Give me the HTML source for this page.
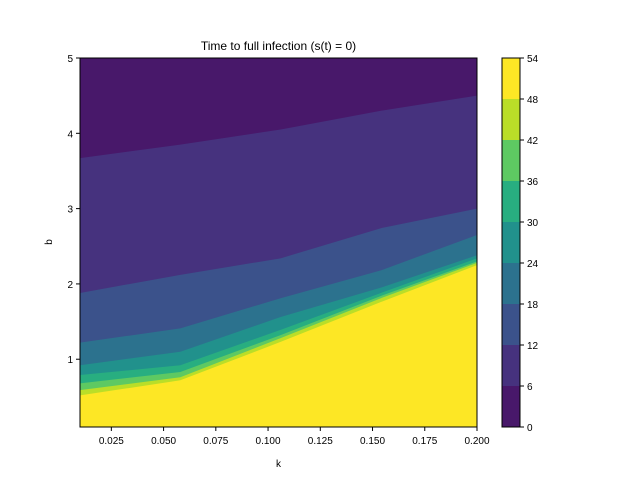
<!DOCTYPE html>
<html><head><meta charset="utf-8"><style>body{margin:0;background:#fff}svg{font-family:"Liberation Sans","DejaVu Sans",sans-serif}</style></head>
<body>
<svg id="c" width="640" height="480" xmlns="http://www.w3.org/2000/svg"></svg>
<script>
const kVals=[0.01,0.058,0.106,0.154,0.2];
const levels=[6,12,18,24,30,36,42,48];
const b6=[3.67,3.85,4.05,4.3,4.5];
const b12=[1.88,2.12,2.34,2.74,3.0];
const b18=[1.22,1.41,1.81,2.18,2.65];
const b24=[0.92,1.10,1.56,1.95,2.38];
const b30=[0.79,0.92,1.39,1.88,2.34];
const b36=[0.68,0.83,1.32,1.84,2.30];
const b42=[0.59,0.76,1.28,1.81,2.28];
const b48=[0.52,0.72,1.23,1.76,2.25];
const xTicks=[0.025,0.05,0.075,0.1,0.125,0.15,0.175,0.2];
const yTicks=[1,2,3,4,5];
const cbTicks=[0,6,12,18,24,30,36,42,48,54];
const colors=["#48186a","#46327e","#3b528b","#2c728e","#21918c","#28ae80","#5ec962","#bade28","#fde725"];
const L=80,R=477,T=58,B=427;
const X=k=>L+(k-0.01)/0.19*(R-L);
const Y=b=>B-(b-0.1)/4.9*(B-T);
const s=document.getElementById('c');const NS="http://www.w3.org/2000/svg";
function mk(t,a,p){const e=document.createElementNS(NS,t);for(const q in a)e.setAttribute(q,a[q]);(p||s).appendChild(e);return e;}
const bounds=[b6,b12,b18,b24,b30,b36,b42,b48];
const bg=mk('rect',{x:L,y:T,width:R-L,height:B-T,fill:colors[8]});


for(let i=bounds.length-1;i>=0;i--){
  const bd=bounds[i];
  let pts=kVals.map((k,j)=>X(k)+','+Y(bd[j]));
  pts.push(R+','+T);pts.push(L+','+T);
  const p=mk('polygon',{points:pts.join(' '),fill:colors[i]});
  
  
}
mk('rect',{x:L,y:T,width:R-L,height:B-T,fill:'none',stroke:'#000','stroke-width':1});
xTicks.forEach(t=>{const x=X(t);mk('line',{x1:x,x2:x,y1:B,y2:B+4,stroke:'#000'});
 const e=mk('text',{x:x,y:B+17,'text-anchor':'middle','font-size':10});e.textContent=t.toFixed(3);
 });
yTicks.forEach(t=>{const y=Y(t);mk('line',{x1:L-4,x2:L,y1:y,y2:y,stroke:'#000'});
 const e=mk('text',{x:L-7,y:y+4,'text-anchor':'end','font-size':10});e.textContent=t;
 });
let e=mk('text',{x:278.5,y:50,'text-anchor':'middle','font-size':12});e.textContent='Time to full infection (s(t) = 0)';

e=mk('text',{x:278.5,y:467,'text-anchor':'middle','font-size':10});e.textContent='k';

e=mk('text',{x:52,y:242,'text-anchor':'middle','font-size':10,transform:'rotate(-90 52 242)'});e.textContent='b';

const CL=502,CR=520;const CY=v=>B-v/54*(B-T);
for(let i=0;i<9;i++){const r=mk('rect',{x:CL,y:CY(cbTicks[i+1]),width:CR-CL,height:CY(cbTicks[i])-CY(cbTicks[i+1]),fill:colors[i]});
 }
mk('rect',{x:CL,y:T,width:CR-CL,height:B-T,fill:'none',stroke:'#000'});
cbTicks.forEach(t=>{const y=CY(t);mk('line',{x1:CR,x2:CR+4,y1:y,y2:y,stroke:'#000'});
 const e=mk('text',{x:CR+7,y:y+4,'font-size':10});e.textContent=t;
 });
</script>
</body></html>
